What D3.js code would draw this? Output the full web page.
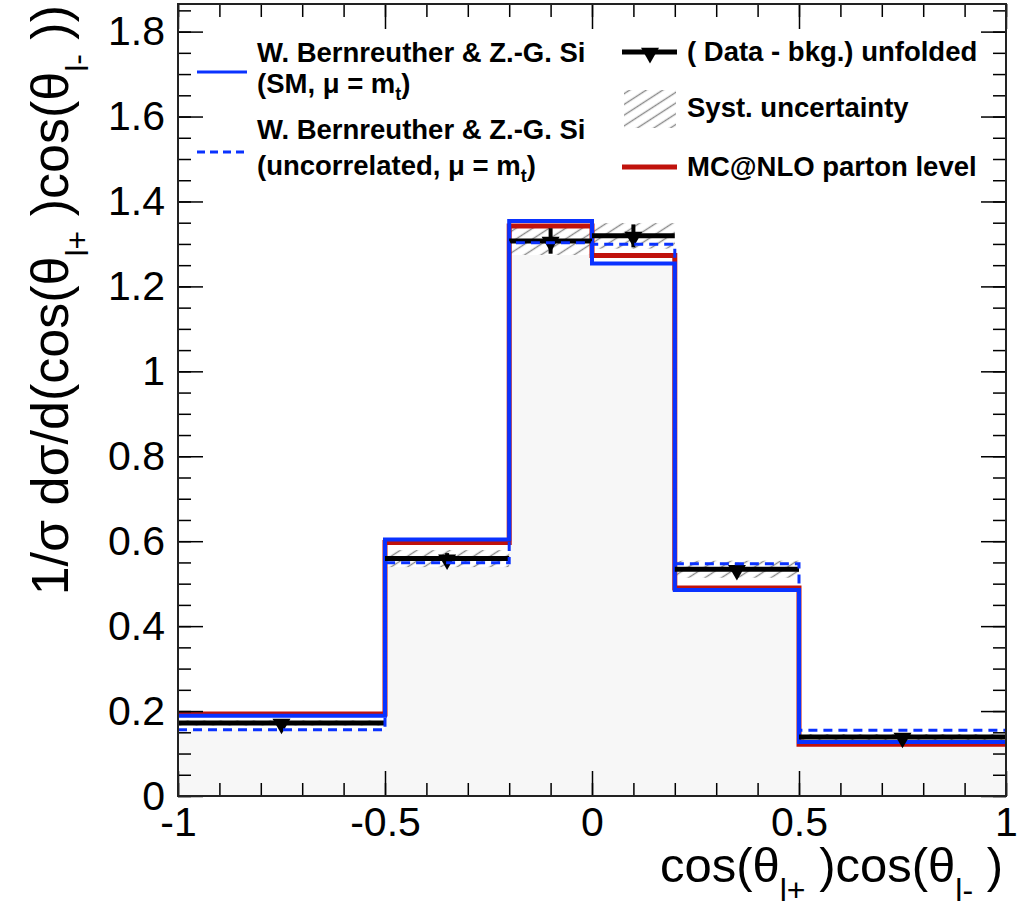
<!DOCTYPE html>
<html>
<head>
<meta charset="utf-8">
<script src="https://cdn.jsdelivr.net/npm/d3@7"></script>
<style>
  body { margin: 0; background: #fff; }
  svg { display: block; font-family: "Liberation Sans", Arial, sans-serif; }
</style>
</head>
<body>
<svg width="1023" height="908"></svg>
<script>
// bins of cos(theta_l+)cos(theta_l-)
const binEdges = [-1, -0.5, -0.2, 0, 0.2, 0.5, 1];
const binCenters = [-0.75, -0.35, -0.1, 0.1, 0.35, 0.75];

// unfolded data with stat / syst errors
const dataVals = [0.172, 0.559, 1.307, 1.319, 0.534, 0.139];
const statErr = [0.008, 0.013, 0.030, 0.027, 0.015, 0.008];
const systErr = [0.006, 0.020, 0.033, 0.030, 0.020, 0.007];

// theory / MC
const smVals = [0.189, 0.604, 1.354, 1.254, 0.485, 0.127];
const uncorrVals = [0.156, 0.549, 1.303, 1.299, 0.547, 0.155];
const mcnloVals = [0.193, 0.597, 1.342, 1.273, 0.490, 0.122];

const xMajor = [-1, -0.5, 0, 0.5, 1];
const xMinor = d3.range(-1, 1.0001, 0.1);
const yMajor = [0, 0.2, 0.4, 0.6, 0.8, 1, 1.2, 1.4, 1.6, 1.8];
const yMinor = d3.range(0, 1.86, 0.05);

const pLeft = 178, pRight = 1006, pTop = 4, pBottom = 796;

const x = d3.scaleLinear().domain([-1, 1]).range([pLeft, pRight]);
const y = d3.scaleLinear().domain([0, 1.865]).range([pBottom, pTop]);

const svg = d3.select('svg');

// hatch pattern for syst. band
const defs = svg.append('defs');
const pat = defs.append('pattern')
  .attr('id', 'hatch')
  .attr('patternUnits', 'userSpaceOnUse')
  .attr('width', 20).attr('height', 9)
  .attr('patternTransform', 'rotate(-33)');
pat.append('line')
  .attr('x1', 0).attr('x2', 20).attr('y1', 4.5).attr('y2', 4.5)
  .attr('stroke', '#8a8a8a').attr('stroke-width', 1.4);

const plot = svg.append('g');

// light fill under the lowest curve
const lowest = binCenters.map((c, i) =>
  d3.min([smVals[i], uncorrVals[i], mcnloVals[i], dataVals[i] - systErr[i]]));

function stepPts(vals) {
  const pts = vals.map((v, i) => [binEdges[i], v]);
  pts.push([binEdges[binEdges.length - 1], vals[vals.length - 1]]);
  return pts;
}

plot.append('path')
  .datum(stepPts(lowest))
  .attr('fill', '#f7f7f7')
  .attr('d', d3.area().curve(d3.curveStepAfter)
    .x(d => x(d[0])).y0(y(0)).y1(d => y(d[1])));

// syst. band
plot.selectAll('.syst')
  .data(dataVals)
  .enter()
  .append('rect')
  .classed('syst', true)
  .attr('x', (d, i) => x(binEdges[i]))
  .attr('width', (d, i) => x(binEdges[i + 1]) - x(binEdges[i]))
  .attr('y', (d, i) => y(d + systErr[i]))
  .attr('height', (d, i) => y(d - systErr[i]) - y(d + systErr[i]))
  .attr('fill', 'url(#hatch)');

const step = d3.line().curve(d3.curveStepAfter)
  .x(d => x(d[0])).y(d => y(d[1]));

plot.append('path')
  .datum(stepPts(mcnloVals))
  .attr('fill', 'none')
  .attr('stroke', '#c0120c')
  .attr('stroke-width', 5)
  .attr('d', step);

plot.append('path')
  .datum(stepPts(smVals))
  .attr('fill', 'none')
  .attr('stroke', '#0a32ff')
  .attr('stroke-width', 4)
  .attr('d', step);

// data: horizontal bars, error bars, markers
plot.selectAll('.dline')
  .data(dataVals)
  .enter()
  .append('line')
  .classed('dline', true)
  .attr('x1', (d, i) => x(binEdges[i]))
  .attr('x2', (d, i) => x(binEdges[i + 1]))
  .attr('y1', d => y(d)).attr('y2', d => y(d))
  .attr('stroke', '#000').attr('stroke-width', 5);

plot.selectAll('.err')
  .data(dataVals)
  .enter()
  .append('line')
  .classed('err', true)
  .attr('x1', (d, i) => x(binCenters[i]))
  .attr('x2', (d, i) => x(binCenters[i]))
  .attr('y1', (d, i) => y(d + statErr[i]))
  .attr('y2', (d, i) => y(d - statErr[i]))
  .attr('stroke', '#000').attr('stroke-width', 4);

const tri = d3.symbol().type(d3.symbolTriangle).size(140);

plot.selectAll('.mark')
  .data(dataVals)
  .enter()
  .append('path')
  .classed('mark', true)
  .attr('d', tri)
  .attr('transform', (d, i) => 'translate(' + x(binCenters[i]) + ',' + (y(d) + 1) + ') rotate(180)')
  .attr('fill', '#000');

plot.append('path')
  .datum(stepPts(uncorrVals))
  .attr('fill', 'none')
  .attr('stroke', '#0a32ff')
  .attr('stroke-width', 3)
  .attr('stroke-dasharray', '9,6')
  .attr('d', step);

// axes (ticks point inward)
function styleAxis(g) {
  g.select('.domain').remove();
  g.selectAll('.tick line').attr('stroke', '#000').attr('stroke-width', 1.5);
  g.selectAll('text').attr('font-size', 41).attr('fill', '#000')
    .attr('font-family', '"Liberation Sans", Arial, sans-serif');
}
const fmt = d => String(+d.toFixed(1));

svg.append('g').attr('transform', 'translate(' + pLeft + ',0)')
  .call(d3.axisLeft(y).tickValues(yMinor).tickSize(-13).tickFormat(''))
  .call(styleAxis);
svg.append('g').attr('transform', 'translate(' + pLeft + ',0)')
  .call(d3.axisLeft(y).tickValues(yMajor).tickSize(-25).tickPadding(13).tickFormat(fmt))
  .call(styleAxis);
svg.append('g').attr('transform', 'translate(' + pRight + ',0)')
  .call(d3.axisRight(y).tickValues(yMinor).tickSize(-13).tickFormat(''))
  .call(styleAxis);
svg.append('g').attr('transform', 'translate(' + pRight + ',0)')
  .call(d3.axisRight(y).tickValues(yMajor).tickSize(-25).tickFormat(''))
  .call(styleAxis);

svg.append('g').attr('transform', 'translate(0,' + pBottom + ')')
  .call(d3.axisBottom(x).tickValues(xMinor).tickSize(-13).tickFormat(''))
  .call(styleAxis);
svg.append('g').attr('transform', 'translate(0,' + pBottom + ')')
  .call(d3.axisBottom(x).tickValues(xMajor).tickSize(-25).tickPadding(11).tickFormat(fmt))
  .call(styleAxis);
svg.append('g').attr('transform', 'translate(0,' + pTop + ')')
  .call(d3.axisTop(x).tickValues(xMinor).tickSize(-13).tickFormat(''))
  .call(styleAxis);
svg.append('g').attr('transform', 'translate(0,' + pTop + ')')
  .call(d3.axisTop(x).tickValues(xMajor).tickSize(-25).tickFormat(''))
  .call(styleAxis);

svg.append('rect')
  .attr('x', pLeft).attr('y', pTop)
  .attr('width', pRight - pLeft).attr('height', pBottom - pTop)
  .attr('fill', 'none').attr('stroke', '#222').attr('stroke-width', 2);

// axis titles
const xt = svg.append('text')
  .attr('x', 1003).attr('y', 882)
  .attr('text-anchor', 'end')
  .attr('font-size', 49);
xt.append('tspan').text('cos(θ');
xt.append('tspan').attr('dy', 19).attr('font-size', 32).text('l+');
xt.append('tspan').attr('dy', -19).text(' )cos(θ');
xt.append('tspan').attr('dy', 19).attr('font-size', 32).text('l-');
xt.append('tspan').attr('dy', -19).text(' )');

const yt = svg.append('text')
  .attr('transform', 'translate(68,5) rotate(-90)')
  .attr('text-anchor', 'end')
  .attr('font-size', 52);
yt.append('tspan').text('1/σ dσ/d(cos(θ');
yt.append('tspan').attr('dy', 20).attr('font-size', 32).text('l+');
yt.append('tspan').attr('dy', -20).text(' )cos(θ');
yt.append('tspan').attr('dy', 20).attr('font-size', 32).text('l-');
yt.append('tspan').attr('dy', -20).text(' ))');

// legend
const leg = svg.append('g').attr('font-weight', 'bold').attr('font-size', 27.5);

leg.append('line').attr('x1', 197).attr('x2', 247).attr('y1', 72).attr('y2', 72)
  .attr('stroke', '#0a32ff').attr('stroke-width', 3);
leg.append('text').attr('x', 257).attr('y', 62).text('W. Bernreuther & Z.-G. Si');
const l2 = leg.append('text').attr('x', 257).attr('y', 93);
l2.append('tspan').text('(SM, μ = m');
l2.append('tspan').attr('dy', 7).attr('font-size', 18).text('t');
l2.append('tspan').attr('dy', -7).text(')');

leg.append('line').attr('x1', 197).attr('x2', 247).attr('y1', 152).attr('y2', 152)
  .attr('stroke', '#0a32ff').attr('stroke-width', 3).attr('stroke-dasharray', '8,5');
leg.append('text').attr('x', 257).attr('y', 139).text('W. Bernreuther & Z.-G. Si');
const l4 = leg.append('text').attr('x', 257).attr('y', 175);
l4.append('tspan').text('(uncorrelated, μ = m');
l4.append('tspan').attr('dy', 7).attr('font-size', 18).text('t');
l4.append('tspan').attr('dy', -7).text(')');

leg.append('line').attr('x1', 622).attr('x2', 677).attr('y1', 52).attr('y2', 52)
  .attr('stroke', '#000').attr('stroke-width', 5);
leg.append('path').attr('d', tri).attr('fill', '#000')
  .attr('transform', 'translate(650,53) rotate(180)');
leg.append('text').attr('x', 687).attr('y', 61).text('( Data - bkg.) unfolded');

leg.append('rect').attr('x', 624).attr('y', 90).attr('width', 52).attr('height', 38)
  .attr('fill', 'url(#hatch)');
leg.append('text').attr('x', 687).attr('y', 117).text('Syst. uncertainty');

leg.append('line').attr('x1', 622).attr('x2', 677).attr('y1', 167).attr('y2', 167)
  .attr('stroke', '#c0120c').attr('stroke-width', 5);
leg.append('text').attr('x', 687).attr('y', 176).text('MC@NLO parton level');
</script>
</body>
</html>
